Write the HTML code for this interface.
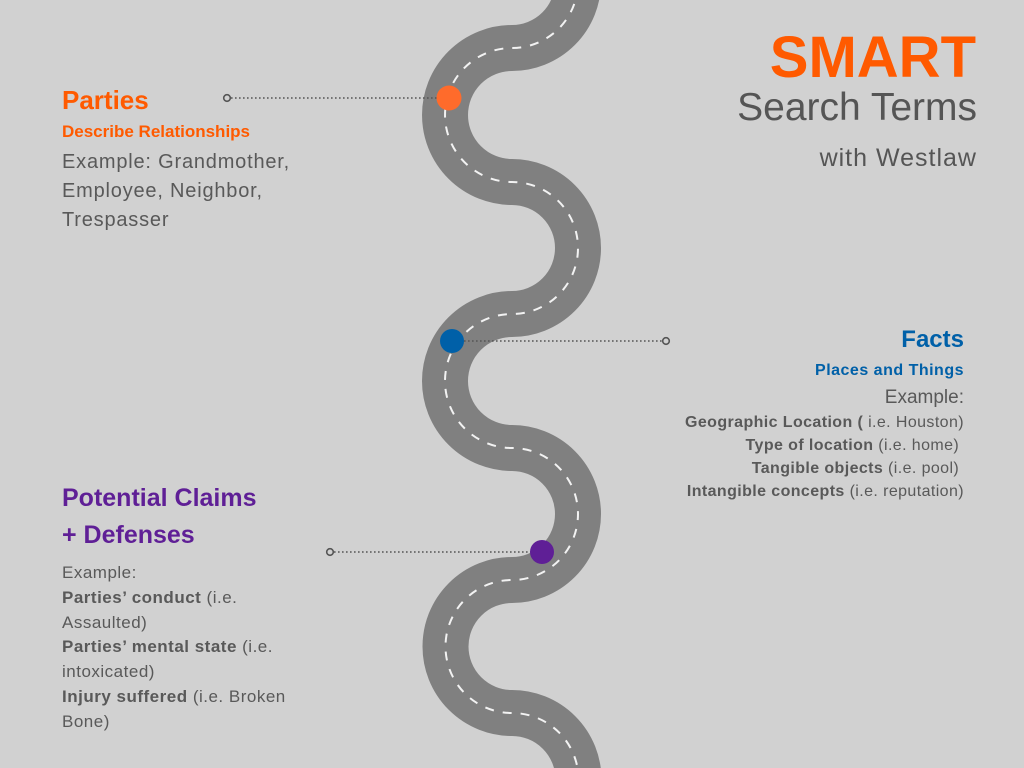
<!DOCTYPE html>
<html style="overflow:hidden;width:1024px;height:768px"><head><meta charset="utf-8"><style>
html,body{margin:0;padding:0}
body{width:1024px;height:768px;background:#d1d1d1;position:relative;overflow:hidden;font-family:"Liberation Sans",sans-serif;color:#595959}
.t{position:absolute;white-space:nowrap}
.r{text-align:right}
b{font-weight:bold}
</style></head><body>
<svg width="1024" height="768" viewBox="0 0 1024 768" style="position:absolute;left:0;top:0;overflow:hidden;display:block">
<path d="M512,-84 A66,66 0 0 1 512,48 A66,66 0 0 0 512,182 A66,66 0 0 1 512,314 A66,66 0 0 0 512,448 A66,66 0 0 1 512,580 A66,66 0 0 0 512,713 A66,66 0 0 1 512,846" fill="none" stroke="#808080" stroke-width="46"/>
<path d="M512,-84 A66,66 0 0 1 512,48 A66,66 0 0 0 512,182 A66,66 0 0 1 512,314 A66,66 0 0 0 512,448 A66,66 0 0 1 512,580 A66,66 0 0 0 512,713 A66,66 0 0 1 512,846" fill="none" stroke="#f2f2f2" stroke-width="2" stroke-dasharray="9 9"/>
<g stroke="#555" stroke-width="1.6" fill="none">
<line x1="231" y1="98" x2="440" y2="98" stroke-dasharray="1.6 2.4"/>
<circle cx="227" cy="98" r="3.3"/>
<line x1="460" y1="341" x2="662" y2="341" stroke-dasharray="1.6 2.4"/>
<circle cx="666" cy="341" r="3.3"/>
<line x1="334" y1="552" x2="532" y2="552" stroke-dasharray="1.6 2.4"/>
<circle cx="330" cy="552" r="3.3"/>
</g>
<circle cx="449" cy="98" r="12.5" fill="#ff6b2b"/>
<circle cx="452" cy="341" r="12" fill="#0060a8"/>
<circle cx="542" cy="552" r="12" fill="#5f1f96"/>
</svg>

<div class="t r" style="right:48px;top:25px;font-size:58px;font-weight:bold;color:#ff5a00;line-height:66px">SMART</div>
<div class="t r" style="right:47px;top:86px;font-size:39px;line-height:44px;color:#555">Search Terms</div>
<div class="t r" style="right:47px;top:143px;font-size:25px;letter-spacing:1px;line-height:30px;color:#555">with Westlaw</div>

<div class="t" style="left:62px;top:85px;font-size:26px;font-weight:bold;color:#ff5a00;line-height:30px">Parties</div>
<div class="t" style="left:62px;top:122px;font-size:17px;font-weight:bold;color:#ff5a00;line-height:20px">Describe Relationships</div>
<div class="t" style="left:62px;top:148px;font-size:20px;letter-spacing:0.8px;line-height:29px">Example: Grandmother,<br>Employee, Neighbor,<br>Trespasser</div>

<div class="t r" style="right:60px;top:325px;font-size:24px;font-weight:bold;color:#0060a8;line-height:30px">Facts</div>
<div class="t r" style="right:60px;top:361px;font-size:16px;letter-spacing:0.5px;font-weight:bold;color:#0060a8;line-height:20px">Places and Things</div>
<div class="t r" style="right:60px;top:386px;font-size:19px;line-height:24px">Example:</div>
<div class="t r" style="right:60px;top:411px;font-size:16px;letter-spacing:0.4px;line-height:23px"><b>Geographic Location (</b> i.e. Houston)<br><b>Type of location</b> (i.e. home)&nbsp;<br><b>Tangible objects</b> (i.e. pool)&nbsp;<br><b>Intangible concepts</b> (i.e. reputation)</div>

<div class="t" style="left:62px;top:480px;font-size:25px;font-weight:bold;color:#5f1f96;line-height:37px">Potential Claims<br>+ Defenses</div>
<div class="t" style="left:62px;top:561px;font-size:17px;letter-spacing:0.5px;line-height:24.8px">Example:<br><b>Parties’ conduct</b> (i.e.<br>Assaulted)<br><b>Parties’ mental state</b> (i.e.<br>intoxicated)<br><b>Injury suffered</b> (i.e. Broken<br>Bone)</div>
</body></html>
